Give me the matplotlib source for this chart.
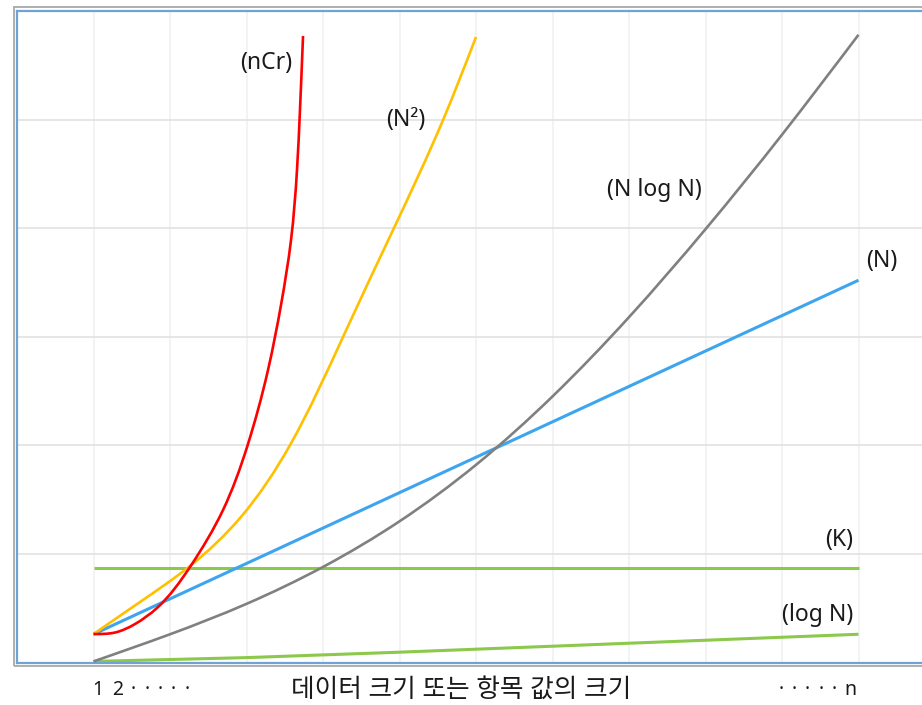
import numpy as np
import matplotlib
matplotlib.use("Agg")
import matplotlib.pyplot as plt
from matplotlib.path import Path
from matplotlib.patches import PathPatch, Rectangle

plt.rcParams['font.family'] = ['Noto Sans', 'Noto Sans CJK KR', 'DejaVu Sans']

# ---- series values (x in data-size units, y in work units) ----
nlogn_x = [1, 2, 3, 4, 5, 6, 7, 8, 9, 10, 11]
nlogn_y = [0.01, 0.26, 0.54, 0.88, 1.30, 1.82, 2.45, 3.18, 3.99, 4.86, 5.78]

ncr_x = [1.0, 1.281, 1.542, 1.83, 2.261, 2.693, 3.007, 3.281, 3.451, 3.582, 3.66, 3.699, 3.739]
ncr_y = [0.262, 0.276, 0.354, 0.502, 0.879, 1.404, 1.984, 2.693, 3.292, 3.891, 4.535, 5.087, 5.769]

nsq_x = [1.0, 1.608, 2.261, 2.915, 3.569, 4.261, 4.915, 5.569, 6.0]
nsq_y = [0.262, 0.557, 0.888, 1.33, 2.002, 2.997, 3.982, 4.995, 5.76]

n_x = [1, 11]
n_y = [0.26, 3.52]

k_x = [1, 11]
k_y = [0.873, 0.873]

logn_x = [1, 3, 5, 7, 9, 11]
logn_y = [0.01, 0.045, 0.095, 0.15, 0.205, 0.26]

# label text and anchor positions
labels = ["(nCr)", "(N²)", "(N log N)", "(N)", "(K)", "(log N)"]
label_x = [3.595, 4.824, 7.712, 11.098, 10.928, 10.928]
label_y = [5.52, 4.995, 4.351, 3.697, 1.128, 0.437]
label_ha = ["right", "left", "left", "left", "right", "right"]

x_left_tokens = ["1", "2", "·", "·", "·", "·", "·"]
x_mid_text = "데이터 크기 또는 항목 값의 크기"
x_right_tokens = ["·", "·", "·", "·", "·", "n"]

W, H = 922, 705
left_px, unit_x = 17.0, 76.5
bottom_px, top_px = 662.5, 10.9
unit_y = (bottom_px - top_px) / 6


def smooth_path(xs, ys, sx=unit_x, sy=unit_y):
    """Smoothed line through the points: natural cubic spline over chord
    length (screen-proportional space), written as cubic Bezier segments."""
    P = np.column_stack([np.asarray(xs, float) * sx, np.asarray(ys, float) * sy])
    n = len(P)
    if n < 3:
        verts = list(zip(xs, ys))
        return Path(verts, [Path.MOVETO] + [Path.LINETO] * (n - 1))
    h = np.hypot(*np.diff(P, axis=0).T)
    # tridiagonal system for second derivatives (natural ends)
    A = np.zeros((n, n))
    B = np.zeros((n, 2))
    A[0, 0] = A[-1, -1] = 1.0
    for i in range(1, n - 1):
        A[i, i - 1] = h[i - 1]
        A[i, i] = 2 * (h[i - 1] + h[i])
        A[i, i + 1] = h[i]
        B[i] = 6 * ((P[i + 1] - P[i]) / h[i] - (P[i] - P[i - 1]) / h[i - 1])
    M = np.linalg.solve(A, B)

    verts = [tuple(P[0])]
    codes = [Path.MOVETO]
    for i in range(n - 1):
        hi = h[i]
        slope = (P[i + 1] - P[i]) / hi
        d0 = slope - hi * (2 * M[i] + M[i + 1]) / 6
        d1 = slope + hi * (M[i] + 2 * M[i + 1]) / 6
        c1 = P[i] + hi * d0 / 3
        c2 = P[i + 1] - hi * d1 / 3
        verts += [tuple(c1), tuple(c2), tuple(P[i + 1])]
        codes += [Path.CURVE4] * 3
    verts = [(vx / sx, vy / sy) for vx, vy in verts]
    return Path(verts, codes)


fig = plt.figure(figsize=(W / 100, H / 100), dpi=100)
fig.patch.set_facecolor("white")

# axes: left edge at px 17, one grid unit = 76.5 px, runs past the right edge
ax = fig.add_axes([left_px / W, (H - bottom_px) / H,
                   12 * unit_x / W, (bottom_px - top_px) / H])
ax.set_xlim(0, 12)
ax.set_ylim(0, 6)
ax.set_xticks([])
ax.set_yticks([])

for gx in range(1, 12):
    ax.axvline(gx, color="#F0F0F0", lw=1.1, zorder=0)
for gy in range(1, 6):
    ax.axhline(gy, color="#E2E2E2", lw=1.2, zorder=0)

for sp in ax.spines.values():
    sp.set_color("#6FA3D6")
    sp.set_linewidth(1.6)

# outer grey frame
fig.add_artist(Rectangle((14 / W, (H - 665.7) / H), 1.0, (665.7 - 6.7) / H,
                         transform=fig.transFigure, fill=False,
                         ec="#A8A8A8", lw=1.3, zorder=5))

green = "#8CC84B"
ax.plot(logn_x, logn_y, color=green, lw=2.2, solid_capstyle="butt", zorder=2)
ax.plot(k_x, k_y, color=green, lw=2.2, solid_capstyle="butt", zorder=2)
ax.plot(n_x, n_y, color="#3DA5F0", lw=2.2, solid_capstyle="butt", zorder=3)

for xs, ys, col, lw in [(nlogn_x, nlogn_y, "#808080", 1.9),
                        (nsq_x, nsq_y, "#FFC000", 1.9),
                        (ncr_x, ncr_y, "#FF0000", 1.9)]:
    ax.add_patch(PathPatch(smooth_path(xs, ys), fill=False, ec=col, lw=lw,
                           capstyle="butt", joinstyle="round", zorder=4))

for t, x, y, ha in zip(labels, label_x, label_y, label_ha):
    ax.text(x, y, t, ha=ha, va="center", fontsize=16.5, color="#1A1A1A",
            zorder=6, clip_on=False)

ty = 1 - 690 / H
pitch = 13.3
# "1 2 · · · · ·" along the left end of the size axis
left_centers = [98, 117.5] + [133.5 + k * pitch for k in range(5)]
for tok, cx in zip(x_left_tokens, left_centers):
    fig.text(cx / W, ty, tok, ha="center", va="center", fontsize=14, color="#1A1A1A")
# "· · · · · n" along the right end
right_centers = [781 + k * pitch for k in range(5)] + [850]
for tok, cx in zip(x_right_tokens, right_centers):
    fig.text(cx / W, ty, tok, ha="center", va="center", fontsize=14, color="#1A1A1A")
fig.text(461 / W, ty, x_mid_text, ha="center", va="center", fontsize=18.5,
         color="#1A1A1A")

fig.savefig("out.png", dpi=100)
